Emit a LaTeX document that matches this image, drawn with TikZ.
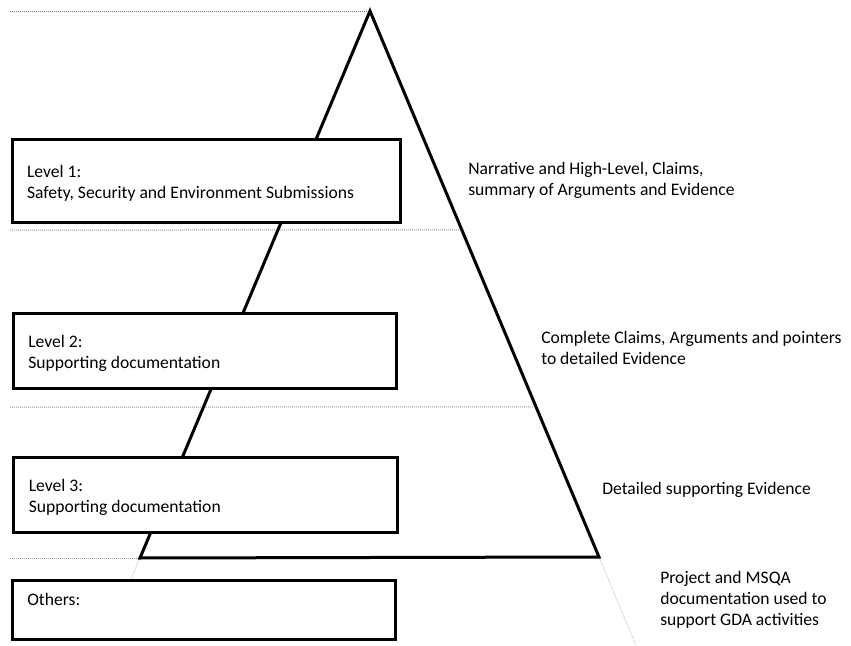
\documentclass[tikz,border=0pt]{standalone}
\usepackage{fontspec}
\setmainfont{Carlito}
\usetikzlibrary{calc}
\tikzset{
  tri/.style={line width=2.25pt, line join=miter},
  sepline/.style={black!40, line width=0.75pt, dash pattern=on 0.75pt off 0.75pt},
  extline/.style={black!25, line width=0.6pt, dash pattern=on 0.75pt off 0.75pt},
  levelbox/.style={draw, line width=2.25pt, fill=white, align=flush left,
    inner xsep=11.25pt, text width=#1},
  topgap/.style={execute at begin node=\rule{0pt}{14pt}},
  sidetext/.style={anchor=west, align=flush left, inner sep=0pt},
}
\begin{document}
\begin{tikzpicture}[x=0.75pt, y=-0.75pt, font=\fontsize{13.2}{15.75}\selectfont]
  \useasboundingbox (0,0) rectangle (851,646);
  \coordinate (apex) at (370,11);
  \coordinate (bl) at (140,558);
  \coordinate (br) at (599,557);
  \coordinate (top) at (10,11);
  \coordinate (s1) at (10,230);
  \coordinate (s2) at (10,407);
  \coordinate (s3) at (10,558);
  \coordinate (e1) at ($(apex)!{(230-11)/546}!(br)$);
  \coordinate (e2) at ($(apex)!{(407-11)/546}!(br)$);
  \coordinate (xl) at ($(apex)!1.15!(bl)$);
  \coordinate (xr) at ($(apex)!1.16!(br)$);

  \draw[sepline, black!55] (top) -- (apex);
  \draw[sepline] (s1) -- (e1);
  \draw[sepline] (s2) -- (e2);
  \draw[sepline] (s3) -- (bl);
  \draw[extline] (bl) -- (xl);
  \draw[extline] (br) -- (xr);
  \draw[tri] (apex) -- (br) -- (bl) -- cycle;

  \node[levelbox=268.5pt, topgap, minimum height=62.25pt] (lvl1) at (206,180.5)
    {Level 1:\\Safety, Security and Environment Submissions};
  \node[levelbox=265pt, topgap, minimum height=56.25pt] (lvl2) at (205,350.5)
    {Level 2:\\Supporting documentation};
  \node[levelbox=265pt, topgap, minimum height=56.25pt] (lvl3) at (205.5,494.5)
    {Level 3:\\Supporting documentation};
  \node[levelbox=265pt, minimum height=44.25pt] (other) at (204,609.5)
    {Others:\\\mbox{}};

  \node[sidetext] (d1) at (468,180.5)
    {Narrative and High-Level, Claims,\\summary of Arguments and Evidence};
  \node[sidetext] (d2) at (541,348)
    {Complete Claims, Arguments and pointers\\to detailed Evidence};
  \node[sidetext] (d3) at (602,490)
    {Detailed supporting Evidence};
  \node[sidetext] (d4) at (660,600)
    {Project and MSQA\\documentation used to\\support GDA activities};
\end{tikzpicture}
\end{document}
